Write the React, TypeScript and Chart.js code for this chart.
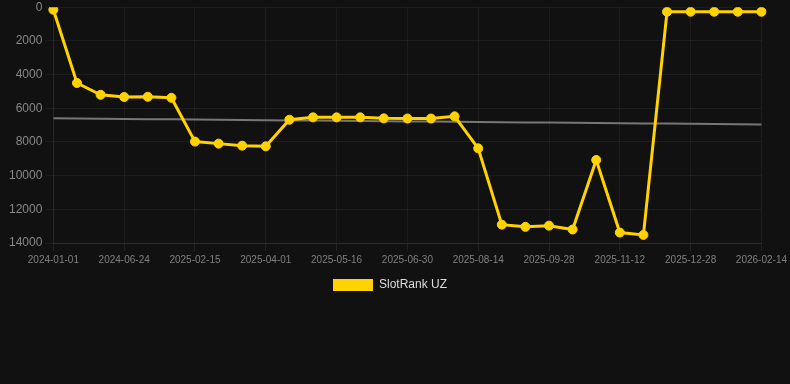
import React, { useEffect, useRef } from "react";
import { Chart, registerables } from "chart.js";

Chart.register(...registerables);

const dates: string[] = [
  "2024-01-01", "2024-02-28", "2024-04-26", "2024-06-24", "2024-09-10", "2024-11-28",
  "2025-02-15", "2025-03-02", "2025-03-17", "2025-04-01", "2025-04-16", "2025-05-01",
  "2025-05-16", "2025-05-31", "2025-06-15", "2025-06-30", "2025-07-15", "2025-07-30",
  "2025-08-14", "2025-08-29", "2025-09-13", "2025-09-28", "2025-10-13", "2025-10-28",
  "2025-11-12", "2025-11-27", "2025-12-13", "2025-12-28", "2026-01-13", "2026-01-29",
  "2026-02-14",
];

const slotRankUZ: number[] = [
  150, 4500, 5200, 5330, 5320, 5380,
  7980, 8100, 8220, 8260, 6680, 6540,
  6540, 6540, 6600, 6610, 6610, 6480,
  8380, 12910, 13040, 12970, 13200, 9070,
  13380, 13520, 270, 270, 270, 270,
  270,
];

const trendStart = 6600;
const trendEnd = 6960;

const yTicksMin = 0;
const yTicksMax = 14000;
const yTicksStep = 2000;

const FONT = "Arial, Liberation Sans, Helvetica, sans-serif";

export default function App() {
  const ref = useRef<HTMLCanvasElement | null>(null);

  useEffect(() => {
    document.body.style.margin = "0";
    document.body.style.background = "#111111";
    if (!ref.current) return;
    const n = dates.length;
    const trend = dates.map((_, i) => trendStart + ((trendEnd - trendStart) * i) / (n - 1));
    const chart = new Chart(ref.current, {
      type: "line",
      data: {
        labels: dates,
        datasets: [
          {
            label: "SlotRank UZ",
            data: slotRankUZ,
            borderColor: "#FFD200",
            backgroundColor: "#FFD200",
            borderWidth: 3,
            pointRadius: 4.5,
            pointHoverRadius: 4.5,
            pointBorderWidth: 1,
            pointBackgroundColor: "#FFD200",
            pointBorderColor: "#FFD200",
            tension: 0,
          },
          {
            label: "trend",
            data: trend,
            borderColor: "#777777",
            backgroundColor: "#777777",
            borderWidth: 2,
            pointRadius: 0,
            tension: 0,
          },
        ],
      },
      options: {
        animation: false,
        responsive: false,
        maintainAspectRatio: false,
        layout: { padding: { left: 6, right: 16, top: 0, bottom: 0 } },
        plugins: {
          legend: {
            position: "bottom",
            labels: {
              color: "#dddddd",
              boxWidth: 40,
              boxHeight: 12,
              font: { size: 12, family: FONT },
              filter: (item) => item.text !== "trend",
              generateLabels: (c) =>
                Chart.defaults.plugins.legend.labels
                  .generateLabels(c)
                  .map((it) => ({ ...it, lineWidth: 0 })),
            },
          },
          tooltip: { enabled: false },
        },
        scales: {
          x: {
            grid: { color: "rgba(255,255,255,0.05)", tickColor: "rgba(255,255,255,0.08)" },
            border: { color: "rgba(255,255,255,0.08)" },
            ticks: {
              color: "#808080",
              autoSkip: true,
              maxTicksLimit: 11,
              maxRotation: 0,
              minRotation: 0,
              font: { size: 10, family: FONT },
            },
          },
          y: {
            reverse: true,
            min: yTicksMin,
            max: yTicksMax,
            grid: { color: "rgba(255,255,255,0.05)", tickColor: "rgba(255,255,255,0.05)" },
            border: { color: "rgba(255,255,255,0.05)" },
            ticks: {
              color: "#888888",
              stepSize: yTicksStep,
              callback: (v) => String(v),
              font: { size: 12, family: FONT },
            },
          },
        },
      },
    });
    return () => chart.destroy();
  }, []);

  return (
    <div style={{ position: "fixed", inset: 0, background: "#111111" }}>
      <canvas
        ref={ref}
        width={790}
        height={304}
        style={{ position: "absolute", left: 0, top: -3, width: 790, height: 304 }}
      />
    </div>
  );
}
